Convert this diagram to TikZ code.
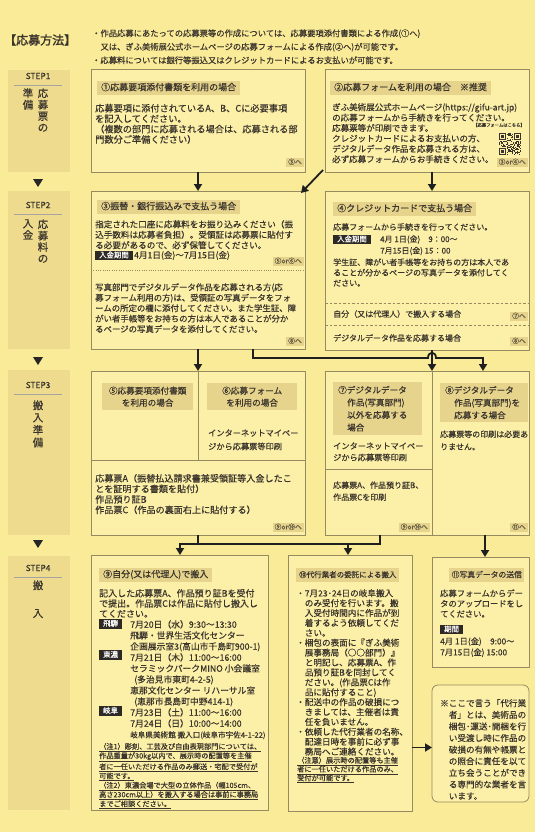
\documentclass[tikz,border=0pt]{standalone}
\usepackage{fontspec}
\setmainfont{Noto Sans CJK JP}
\newfontfamily\jp{Noto Sans CJK JP}[FakeBold=0.35]
\newfontfamily\jpB{Noto Sans CJK JP}[FakeBold=2]
\usetikzlibrary{arrows.meta}
\definecolor{bgc}{RGB}{250,235,152}
\definecolor{boxc}{RGB}{252,240,168}
\definecolor{stepc}{RGB}{238,219,142}
\definecolor{tanc}{RGB}{230,211,140}
\definecolor{edge}{RGB}{150,138,95}
\definecolor{ink}{RGB}{58,52,44}
\definecolor{blkc}{RGB}{45,41,36}
\newcommand\fs[2]{\jp\fontsize{#1}{#2}\selectfont}
\begin{document}
\begin{tikzpicture}[x=1pt,y=-1pt,
  bx/.style={draw=edge,line width=0.8pt,fill=boxc,anchor=north west,inner sep=0pt,outer sep=0pt},
  stp/.style={fill=stepc,anchor=north west,inner sep=0pt,outer sep=0pt},
  tx/.style={anchor=north west,inner sep=0pt,align=left,text=ink},
  tl/.style={anchor=west,inner sep=0pt,text=ink},
  lab/.style={fill=tanc,text=ink,anchor=west,inner xsep=4pt,inner ysep=2.4pt,text height=7pt,text depth=2pt,font=\fs{9}{10}},
  tan/.style={fill=tanc,text=ink,anchor=north west,inner xsep=5pt,inner ysep=0pt},
  goto/.style={fill=tanc,text=ink!80!bgc,anchor=south east,inner xsep=2pt,inner ysep=1.2pt,text height=5.4pt,text depth=1.2pt,font=\fs{6.8}{8}},
  blk/.style={fill=blkc,text=white,anchor=west,inner xsep=4pt,inner ysep=1.3pt,text height=5.6pt,text depth=1.2pt,font=\fs{7.4}{8}},
  vt/.style={anchor=north,inner sep=0pt,align=center,text=ink},
  sttl/.style={anchor=center,inner sep=0pt,text=ink,font=\fs{8.4}{10}},
  arr/.style={line width=1.8pt,draw=black!88,-{Triangle[width=8pt,length=7pt]}},
  ln/.style={line width=1.8pt,draw=black!88},
  sep/.style={draw=edge,line width=0.7pt}
]
\useasboundingbox (0,0) rectangle (535,832);
\fill[bgc] (0,0) rectangle (535,832);

% ---------- header ----------
\node[anchor=west,inner sep=0pt,text=ink,font=\jpB\fontsize{12}{14}\selectfont] (title) at (4,40) {【応募方法】};
\node[tx,font=\fs{8.3}{13.5}] (head) at (92,29.2) {・作品応募にあたっての応募票等の作成については、応募要項添付書類による作成(①へ)\\\hspace*{8.3pt}又は、ぎふ美術展公式ホームページの応募フォームによる作成(②へ)が可能です。\\・応募料については銀行等振込又はクレジットカードによるお支払いが可能です。};

% ---------- step column ----------
\node[stp,minimum width=62pt,minimum height=102pt] (s1) at (8,70) {};
\node[stp,minimum width=62pt,minimum height=158pt] (s2) at (8,191) {};
\node[stp,minimum width=62pt,minimum height=165pt] (s3) at (8,370) {};
\node[stp,minimum width=62pt,minimum height=254pt] (s4) at (8,556) {};
\node[sttl] (s1t) at (38,76) {STEP1};
\node[sttl] (s2t) at (38,205) {STEP2};
\node[sttl] (s3t) at (38,385) {STEP3};
\node[sttl] (s4t) at (38,568) {STEP4};
\foreach \yy in {85,214,394,577} \draw[ink!45,line width=0.5pt] (14,\yy) -- (62,\yy);
\node[vt,font=\fs{10.5}{11.4}] (s1a) at (43,88.2) {応\\募\\票\\の};
\node[vt,font=\fs{10.5}{11.4}] (s1b) at (28,88.2) {準\\備};
\node[vt,font=\fs{10.5}{11.4}] (s2a) at (43,219.2) {応\\募\\料\\の};
\node[vt,font=\fs{10.5}{11.4}] (s2b) at (28,219.2) {入\\金};
\node[vt,font=\fs{10.5}{12.4}] (s3a) at (38,400.2) {搬\\入\\準\\備};
\node[vt,font=\fs{10.5}{28}] (s4a) at (38,580.2) {搬\\入};
\foreach \yy in {183,361,544} \fill[black!85] (33,\yy-4) -- (43,\yy-4) -- (38,\yy+4) -- cycle;

% ---------- boxes ----------
\node[bx,minimum width=214pt,minimum height=103pt] (b1) at (91,69) {};
\node[bx,minimum width=204pt,minimum height=103pt] (b2) at (325,69) {};
\node[bx,minimum width=214pt,minimum height=158pt] (b3) at (91,191) {};
\node[bx,minimum width=204pt,minimum height=159pt] (b4) at (325,191) {};
\node[bx,minimum width=214pt,minimum height=164pt] (g56) at (91,371) {};
\node[bx,minimum width=204pt,minimum height=164pt] (g78) at (325,371) {};
\node[bx,minimum width=177pt,minimum height=255pt] (b9) at (91,555) {};
\node[bx,minimum width=124pt,minimum height=256pt] (b10) at (288,555) {};
\node[bx,minimum width=97pt,minimum height=110pt] (b11) at (432,557) {};
\node[bx,rounded corners=6pt,minimum width=97pt,minimum height=117pt] (bn) at (432,685) {};

% ---------- box 1 ----------
\node[lab] (l1) at (97,88) {①応募要項添付書類を利用の場合};
\node[tx,font=\fs{9.2}{10.4}] (t1) at (95,103.8) {応募要項に添付されているA、B、Cに必要事項\\を記入してください。\\（複数の部門に応募される場合は、応募される部\\門数分ご準備ください）};
\node[goto] (g1) at (304,167) {③へ};

% ---------- box 2 ----------
\node[lab] (l2) at (330,88) {②応募フォームを利用の場合　※推奨};
\node[tx,font=\fs{8.5}{10.4}] (t2) at (332,103.1) {ぎふ美術展公式ホームページ(https://gifu-art.jp)\\の応募フォームから手続きを行ってください。\\応募票等が印刷できます。\\クレジットカードによるお支払いの方、\\デジタルデータ作品を応募される方は、\\必ず応募フォームからお手続きください。};
\node[anchor=center,inner sep=0pt,text=ink,font=\fs{4.3}{5}] (qrt) at (499,125) {【応募フォームはこちら】};
\pgfmathsetseed{3}
\foreach \i in {0,...,20}{\foreach \j in {0,...,20}{\pgfmathrandominteger{\rr}{0}{1}\ifnum\rr=1 \fill[ink] (499+\i*1.05,133+\j*1.05) rectangle ++(1.05,1.05);\fi}}
\foreach \a/\b in {0/0,14/0,0/14}{
  \fill[boxc] (499+\a*1.05-1.05,133+\b*1.05-1.05) rectangle ++(9.45,9.45);
  \fill[ink] (499+\a*1.05,133+\b*1.05) rectangle ++(7.35,7.35);
  \fill[boxc] (499+\a*1.05+1.05,133+\b*1.05+1.05) rectangle ++(5.25,5.25);
  \fill[ink] (499+\a*1.05+2.1,133+\b*1.05+2.1) rectangle ++(3.15,3.15);}
\node[goto] (g2) at (528,167) {③or④へ};

% ---------- box 3 ----------
\node[lab] (l3) at (97,207) {③振替・銀行振込みで支払う場合};
\node[tx,font=\fs{8.6}{10.45}] (t3) at (95,220) {指定された口座に応募料をお振り込みください（振\\込手数料は応募者負担）。受領証は応募票に貼付す\\る必要があるので、必ず保管してください。};
\node[blk] (k3) at (95,255.5) {入金期間};
\node[tl,font=\fs{8.6}{10}] (d3) at (134,255.5) {4月1日(金)～7月15日(金)};
\node[goto] (g3a) at (304,266) {⑤or⑥へ};
\draw[edge,line width=0.8pt,dash pattern=on 0.8pt off 1.5pt] (91,270.5) -- (305,270.5);
\node[tx,font=\fs{8.4}{10.45}] (t3b) at (95,283.1) {写真部門でデジタルデータ作品を応募される方(応\\募フォーム利用の方)は、受領証の写真データをフォ\\ームの所定の欄に添付してください。また学生証、障\\がい者手帳等をお持ちの方は本人であることが分か\\るページの写真データを添付してください。};
\node[goto] (g3b) at (304,346) {⑧へ};

% ---------- box 4 ----------
\node[lab] (l4) at (333,209) {④クレジットカードで支払う場合};
\node[tl,font=\fs{8}{10}] (t4a) at (333,227) {応募フォームから手続きを行ってください。};
\node[blk] (k4) at (333,239.5) {入金期間};
\node[tl,font=\fs{8}{10}] (d4a) at (380,239.5) {4月 1日(金)　9：00～};
\node[tl,font=\fs{8}{10}] (d4b) at (380,251) {7月15日(金) 15：00};
\node[tx,font=\fs{8}{10.4}] (t4b) at (333,258.3) {学生証、障がい者手帳等をお持ちの方は本人であ\\ることが分かるページの写真データを添付してく\\ださい。};
\draw[edge,line width=0.7pt,dash pattern=on 2.5pt off 2pt] (325,303) -- (529,303);
\node[tl,font=\fs{8}{10}] (t4c) at (333,314) {自分（又は代理人）で搬入する場合};
\node[goto] (g4a) at (528,321) {⑦へ};
\draw[edge,line width=0.7pt,dash pattern=on 2.5pt off 2pt] (325,325) -- (529,325);
\node[tl,font=\fs{8}{10}] (t4d) at (333,338) {デジタルデータ作品を応募する場合};
\node[goto] (g4b) at (528,346) {⑧へ};

% ---------- step 3 ----------
\draw[sep] (198,371) -- (198,460);
\draw[sep] (91,460) -- (305,460);
\node[tan,text width=81pt,minimum height=27pt,align=center,font=\fs{8.6}{12}] (l5) at (102,383) {⑤応募要項添付書類\\を利用の場合};
\node[tan,text width=80pt,minimum height=27pt,align=center,font=\fs{8.6}{12}] (l6) at (207,383) {⑥応募フォーム\\を利用の場合};
\node[tx,font=\fs{8.2}{13.5}] (t6) at (208,429.2) {インターネットマイペー\\ジから応募票等印刷};
\node[tx,font=\fs{9.1}{10.5}] (t56) at (95,473.8) {応募票A（振替払込請求書兼受領証等入金したこ\\とを証明する書類を貼付）\\作品預り証B\\作品票C（作品の裏面右上に貼付する）};
\node[goto] (g56a) at (304,532) {⑨or⑩へ};

\draw[sep] (432,371) -- (432,535);
\draw[sep] (325,469) -- (432,469);
\node[tan,text width=79pt,minimum height=53pt,align=left,font=\fs{8.6}{12.5}] (l7) at (333,382) {⑦デジタルデータ\\\hspace*{9pt}作品(写真部門)\\\hspace*{9pt}以外を応募する\\\hspace*{9pt}場合};
\node[tx,font=\fs{8.2}{11.5}] (t7a) at (333,442.2) {インターネットマイペー\\ジから応募票等印刷};
\node[tx,font=\fs{8}{12}] (t7b) at (333,481.3) {応募票A、作品預り証B、\\作品票Cを印刷};
\node[goto] (g7) at (430,532) {⑨or⑩へ};
\node[tan,text width=78pt,minimum height=39pt,align=left,font=\fs{8.6}{12.5}] (l8) at (440,383) {⑧デジタルデータ\\\hspace*{9pt}作品(写真部門)を\\\hspace*{9pt}応募する場合};
\node[tx,font=\fs{8}{12.5}] (t8) at (440,430.3) {応募票等の印刷は必要あ\\りません。};
\node[goto] (g8) at (528,532) {⑪へ};

% ---------- box 9 ----------
\node[lab] (l9) at (99,575) {⑨自分(又は代理人)で搬入};
\node[tx,font=\fs{9}{10.2}] (t9) at (99,588.9) {記入した応募票A、作品預り証Bを受付\\で提出。作品票Cは作品に貼付し搬入し\\てください。};
\node[blk] (k9a) at (99,624) {飛騨};
\node[blk] (k9b) at (99,655) {東濃};
\node[blk] (k9c) at (99,711) {岐阜};
\node[tx,font=\fs{8.8}{11}] (v9) at (130,620) {7月20日（水）9:30～13:30\\飛騨・世界生活文化センター\\企画展示室3(高山市千島町900-1)\\7月21日（木）11:00～16:00\\セラミックパークMINO 小会議室\\\hspace*{4pt}(多治見市東町4-2-5)\\恵那文化センター リハーサル室\\\hspace*{4pt}(恵那市長島町中野414-1)\\7月23日（土）11:00～16:00\\7月24日（日）10:00～14:00\\{\fs{7.6}{11}岐阜県美術館 搬入口(岐阜市宇佐4-1-22)}};
\node[tx,font=\fs{7.2}{9.3}] (n9) at (99,742.8) {\underline{（注1）彫刻、工芸及び自由表現部門については、}\\\underline{作品重量が30kg以内で、展示時の配置等を主催}\\\underline{者に一任いただける作品のみ郵送・宅配で受付が}\\\underline{可能です。}\\\underline{（注2）東濃会場で大型の立体作品（幅105cm、}\\\underline{高さ230cm以上）を搬入する場合は事前に事務局}\\\underline{までご相談ください。}};

% ---------- box 10 ----------
\node[lab,font=\fs{7.5}{9},inner xsep=3pt] (l10) at (296,575) {⑩代行業者の委託による搬入};
\node[tx,font=\fs{8.6}{9.9}] (t10) at (296,589) {・7月23･24日の岐阜搬入\\　のみ受付を行います。搬\\　入受付時間内に作品が到\\　着するよう依頼してくだ\\　さい。\\・梱包の表面に『ぎふ美術\\　展事務局（○○部門）』\\　と明記し、応募票A、作\\　品預り証Bを同封してく\\　ださい。(作品票Cは作\\　品に貼付すること)\\・配送中の作品の破損につ\\　きましては、主催者は責\\　任を負いません。\\・依頼した代行業者の名称、\\　配達日時を事前に必ず事\\　務局へご連絡ください。};
\node[tx,font=\fs{7.2}{8.8}] (n10) at (297,756.7) {\underline{（注意）展示時の配置等も主催}\\\underline{者に一任いただける作品のみ、}\\\underline{受付が可能です。}};

% ---------- box 11 ----------
\node[lab,font=\fs{7.8}{9},inner xsep=2.5pt] (l11) at (449,575) {⑪写真データの送信};
\node[tx,font=\fs{8.3}{10.3}] (t11) at (440,589.2) {応募フォームからデー\\タのアップロードをし\\てください。};
\node[blk] (k11) at (440,629.5) {期間};
\node[tx,font=\fs{8.3}{11}] (d11) at (440,637.2) {4月 1日(金)　9:00～\\7月15日(金) 15:00};

% ---------- note ----------
\node[tx,font=\fs{8.6}{11.6}] (tn) at (440,699) {※ここで言う「代行業\\　者」とは、美術品の\\　梱包･運送･開梱を行\\　い受渡し時に作品の\\　破損の有無や帳票と\\　の照合に責任を以て\\　立ち会うことができ\\　る専門的な業者を言\\　います。};

% ---------- connectors ----------
\draw[arr] (b1.south) -- (b3.north);
\draw[arr] ([shift={(-2pt,2pt)}]b2.south west) -- ([shift={(-4pt,-2pt)}]b3.north east);
\draw[arr] ([xshift=5pt]b2.south) -- ([xshift=5pt]b4.north);
\draw[arr] (b3.south) -- (g56.north);
\draw[arr] ([xshift=-52pt]b3.south east) -- (253,358) -- (428,358) .. controls (428,351) and (436,351) .. (436,358) -- (483,358) -- ([xshift=-46pt]g78.north east);
\draw[arr] ([xshift=5pt]b4.south) -- ([xshift=5pt]g78.north);
\draw[ln] (g56.south) -- (198,544);
\draw[arr] ([xshift=55pt]g78.south west) -- (380,544) -- (180,544) -- ([xshift=89pt]b9.north west);
\draw[arr] (348,544) -- ([xshift=60pt]b10.north west);
\draw[arr] ([xshift=-44pt]g78.south east) -- ([xshift=53pt]b11.north west);
\coordinate (nt) at ([yshift=-4pt]bn.west);
\draw[arr] (b10.east |- nt) -- (nt);
\end{tikzpicture}
\end{document}
